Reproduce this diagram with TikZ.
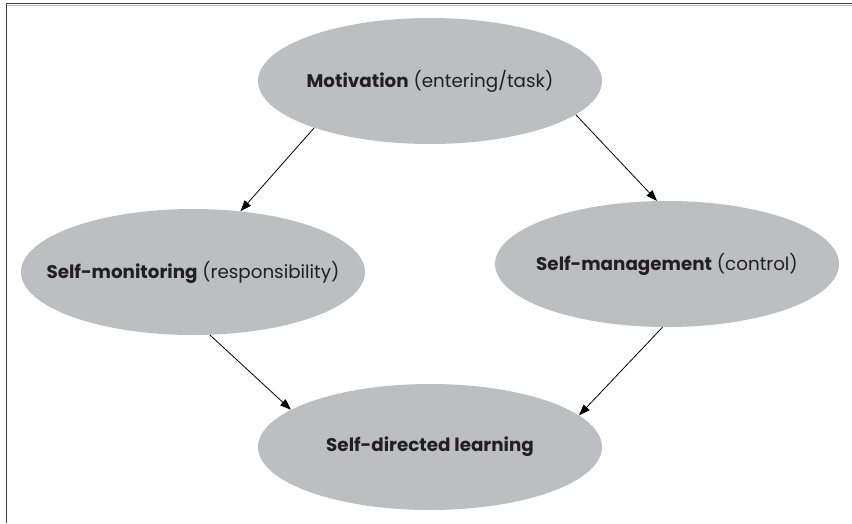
\documentclass[tikz,border=0pt]{standalone}
\usepackage{fontspec}
\setmainfont{Poppins}
\usetikzlibrary{shapes.geometric,arrows.meta}
\definecolor{blobgrey}{RGB}{188,190,193}
\definecolor{inkgrey}{RGB}{35,31,32}
\newcommand{\lbl}[1]{\makebox[0pt]{#1}}

\begin{document}
\begin{tikzpicture}[x=1pt,y=-1pt,
    blob/.style={ellipse,fill=blobgrey,minimum width=344pt,minimum height=126pt,
      inner sep=0pt,text=inkgrey,font=\fontsize{18.3}{22}\selectfont},
    arr/.style={-{Triangle[length=11pt,width=8pt]},line width=0.8pt}]
        \useasboundingbox (0,0) rectangle (852,523);
        \draw[line width=1.3pt,black!75] (852,3.5) -- (6.5,3.5) -- (6.5,523);
        \draw[line width=0.8pt,black!25] (7.2,5) -- (852,5);

        \node[blob](Mot) at (430,81) {\lbl{\textbf{Motivation} (entering/task)}};
        \node[blob](Mon) at (193,272) {\lbl{\textbf{Self-monitoring} (responsibility)}};
        \node[blob](Man) at (667,264) {\lbl{\textbf{Self-management} (control)}};
        \node[blob](Dir) at (430,447) {\lbl{\textbf{Self-directed learning}}};

        \begin{scope}
          \path
          (Mot.202) edge[arr] (Mon.52)
          (Mot.347) edge[arr] (Man.99)
          (Mon.285) edge[arr] (Dir.165)
          (Man.266) edge[arr] (Dir.12);
        \end{scope}
      \end{tikzpicture}
\end{document}
